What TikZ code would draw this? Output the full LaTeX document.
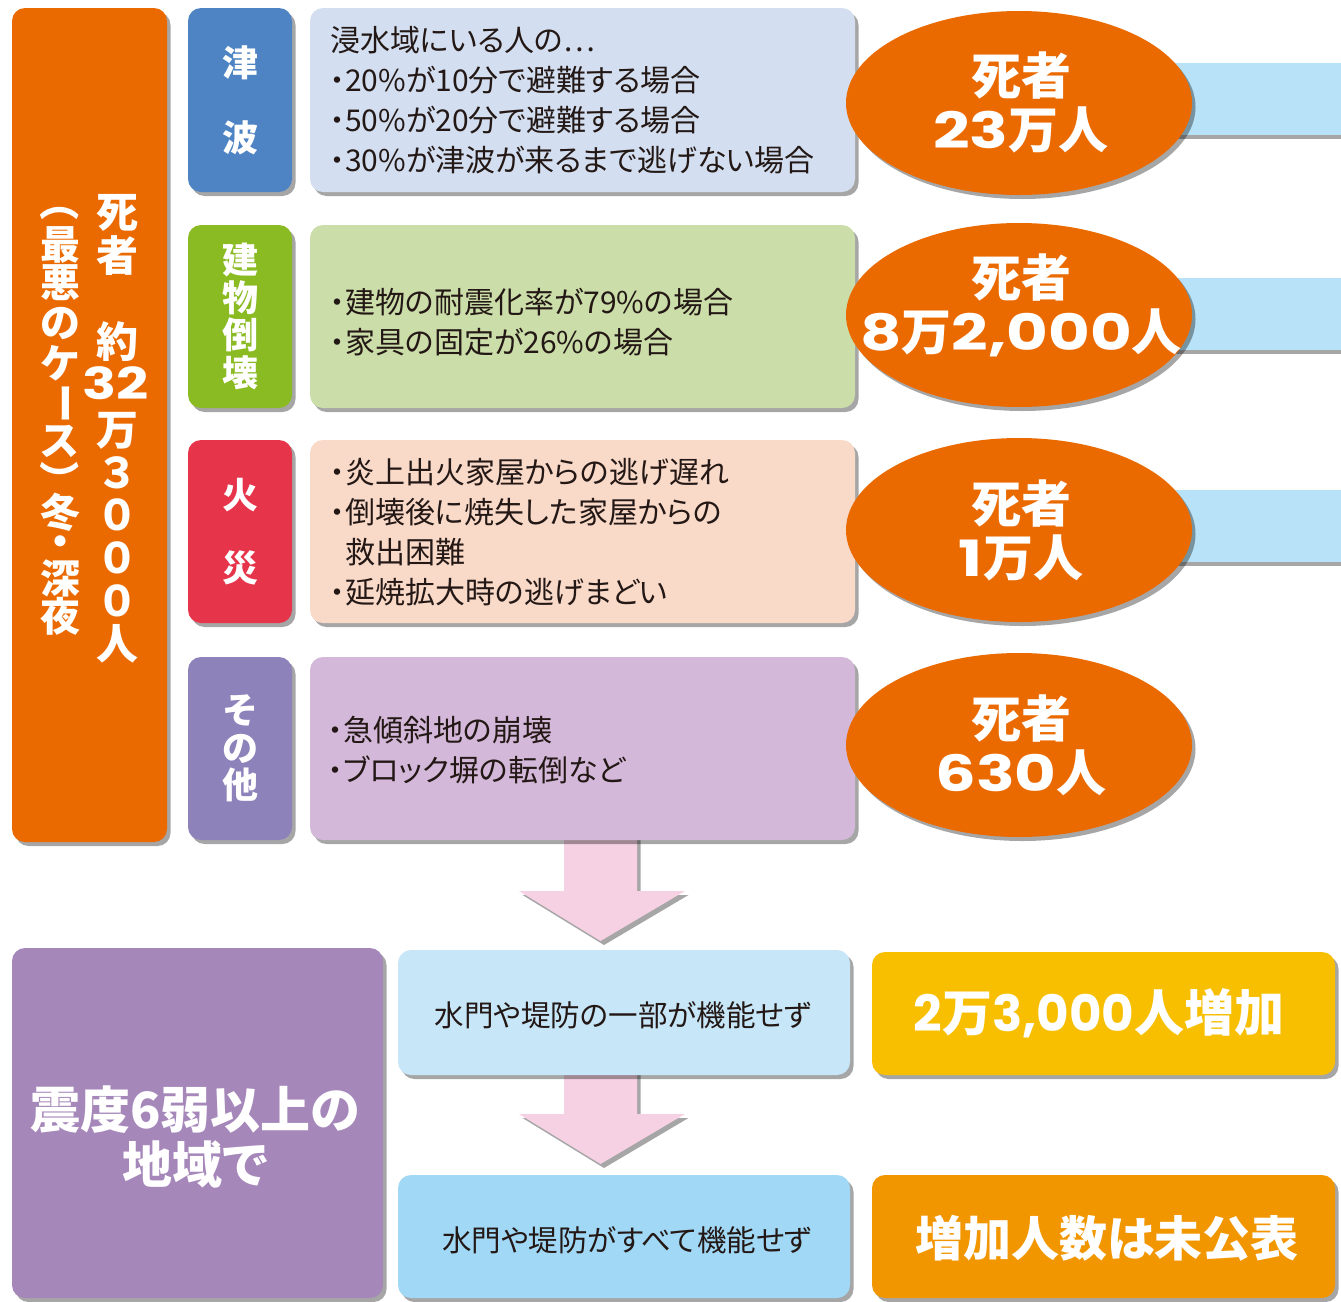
\documentclass[tikz,border=0pt]{standalone}
\usepackage{fontspec}
\setmainfont{Noto Sans CJK JP}[RawFeature={+palt}]
\newfontfamily\pop{Poppins}
\newfontfamily\popw{Poppins}[FakeStretch=1.28]
\usetikzlibrary{shadows,shapes.geometric,calc,backgrounds}
\definecolor{cOr}{HTML}{EB6A00}
\definecolor{cBlue}{HTML}{4F84C4}
\definecolor{cBlueBg}{HTML}{D3DFF0}
\definecolor{cGreen}{HTML}{8ABB22}
\definecolor{cGreenBg}{HTML}{CBDDA9}
\definecolor{cRed}{HTML}{E6344B}
\definecolor{cRedBg}{HTML}{F9D9C8}
\definecolor{cPur}{HTML}{8E82BA}
\definecolor{cPurBg}{HTML}{D3B8D9}
\definecolor{cBar}{HTML}{B8E2F7}
\definecolor{cPink}{HTML}{F6D1E3}
\definecolor{cShindo}{HTML}{A587BA}
\definecolor{cGate1}{HTML}{C7E7F9}
\definecolor{cGate2}{HTML}{A0D8F5}
\definecolor{cRes1}{HTML}{F7BF00}
\definecolor{cRes2}{HTML}{F29600}
\definecolor{cText}{HTML}{231815}
\begin{document}
\begin{tikzpicture}[x=1pt,y=-1pt,
  shad/.style={drop shadow={shadow xshift=3.5pt, shadow yshift=-4pt, fill=black, opacity=0.35}},
  rbox/.style={rectangle, rounded corners=13pt, inner sep=0pt, outer sep=0pt, draw=none, shad},
  oval/.style={ellipse, fill=cOr, inner sep=0pt, minimum width=346pt, minimum height=184pt, shad},
  wt/.style={text=white, inner sep=0pt},
  body/.style={anchor=west, align=left, text=cText, inner sep=0pt, font=\fontsize{30}{40}\selectfont},
  catlabel/.style={wt, align=center},
  bigc/.style={wt, font=\bfseries\fontsize{42}{42}\selectfont},
  leftc/.style={wt, font=\bfseries\fontsize{40}{40}\selectfont},
  ovaltext/.style={wt, align=center, font=\bfseries\fontsize{50}{54}\selectfont},
  bar/.style={fill=cBar, shad},
  fatarrow/.style={fill=cPink, shad},
]
\useasboundingbox (0,0) rectangle (1341,1301);

% light blue bars (behind ovals)
\path[bar] (1150,63) rectangle (1345,135);
\path[bar] (1150,278) rectangle (1345,350);
\path[bar] (1150,490) rectangle (1345,562);

% left total box
\node[rbox, fill=cOr, minimum width=155pt, minimum height=834pt] (total) at (89.5,425) {};
\foreach \c/\yy [count=\i] in {死/213,者/256,約/342,万/431,３/473,０/515,０/558,０/601,人/644}
  \node[bigc] (rc\i) at (117,\yy) {\c};
\node[wt, font=\bfseries\fontsize{44}{44}\selectfont] (rc32) at (116,383) {\popw 32};
\foreach \c/\yy [count=\i] in {最/245,悪/283,の/323,ケ/363,ス/441,冬/512,・/546,深/578,夜/616}
  \node[leftc] (lc\i) at (60,\yy) {\c};
\node[leftc, rotate=-90] (lpo) at (60,210) {（};
\node[leftc, rotate=-90] (lbar) at (60,403) {ー};
\node[leftc, rotate=-90] (lpc) at (60,472) {）};

% category boxes
\node[rbox, fill=cBlue, minimum width=104pt, minimum height=184pt] (cat1) at (240,100) {};
\node[rbox, fill=cGreen, minimum width=104pt, minimum height=183pt] (cat2) at (240,316.5) {};
\node[rbox, fill=cRed, minimum width=104pt, minimum height=183pt] (cat3) at (240,531.5) {};
\node[rbox, fill=cPur, minimum width=104pt, minimum height=183pt] (cat4) at (240,748.5) {};
\node[catlabel, font=\bfseries\fontsize{36}{75}\selectfont] (cl1) at (cat1) {津\\波};
\node[catlabel, font=\bfseries\fontsize{36}{37.5}\selectfont] (cl2) at (cat2) {建\\物\\倒\\壊};
\node[catlabel, font=\bfseries\fontsize{36}{73}\selectfont] (cl3) at (cat3) {火\\災};
\node[catlabel, font=\bfseries\fontsize{36}{37.5}\selectfont] (cl4) at (cat4) {そ\\の\\他};

% text boxes
\node[rbox, fill=cBlueBg, minimum width=545pt, minimum height=184pt] (txt1) at (582.5,100) {};
\node[rbox, fill=cGreenBg, minimum width=545pt, minimum height=183pt] (txt2) at (582.5,316.5) {};
\node[rbox, fill=cRedBg, minimum width=545pt, minimum height=183pt] (txt3) at (582.5,531.5) {};
\node[rbox, fill=cPurBg, minimum width=545pt, minimum height=183pt] (txt4) at (582.5,748.5) {};
\node[body] (tt1) at (330,100) {浸水域にいる人の⋯\\・20\%が10分で避難する場合\\・50\%が20分で避難する場合\\・30\%が津波が来るまで逃げない場合};
\node[body] (tt2) at (330,322) {・建物の耐震化率が79\%の場合\\・家具の固定が26\%の場合};
\node[body] (tt3) at (330,532) {・炎上出火家屋からの逃げ遅れ\\・倒壊後に焼失した家屋からの\\\hphantom{・}救出困難\\・延焼拡大時の逃げまどい};
\node[body] (tt4) at (328,750) {・急傾斜地の崩壊\\・ブロック塀の転倒など};

% death-toll ovals
\node[oval] (e1) at (1019,103) {};
\node[oval] (e2) at (1019,315) {};
\node[oval] (e3) at (1019,530) {};
\node[oval] (e4) at (1019,745) {};
\node[ovaltext] (et1) at (1021,102) {死者\\{\popw 23}万人};
\node[ovaltext] (et2) at (1021,305) {死者\\{\popw 8}万{\popw 2,000}人};
\node[ovaltext] (et3) at (1021,530) {死者\\{\popw 1}万人};
\node[ovaltext] (et4) at (1021,745) {死者\\{\popw 630}人};

% bottom boxes
\node[rbox, fill=cShindo, minimum width=371pt, minimum height=350pt] (shindo) at (197.5,1123) {};
\node[wt, align=center, font=\bfseries\fontsize{50}{55}\selectfont] (shindot) at (195,1137) {震度6弱以上の\\地域で};
\node[rbox, fill=cGate1, minimum width=452pt, minimum height=125pt] (g1) at (624,1012.5) {};
\node[rbox, fill=cGate2, minimum width=452pt, minimum height=123pt] (g2) at (624,1236.5) {};
\node[text=cText, inner sep=0pt, font=\fontsize{29.5}{29.5}\selectfont] (g1t) at (623,1015) {水門や堤防の一部が機能せず};
\node[text=cText, inner sep=0pt, font=\fontsize{29.5}{29.5}\selectfont] (g2t) at (627,1240) {水門や堤防がすべて機能せず};
\node[rbox, fill=cRes1, minimum width=463pt, minimum height=123pt] (r1) at (1103.5,1013.5) {};
\node[rbox, fill=cRes2, minimum width=463pt, minimum height=123pt] (r2) at (1103.5,1236.5) {};
\node[wt, font=\bfseries\fontsize{50}{50}\selectfont] (r1t) at (1099,1013) {{\pop 2}万{\pop 3,000}人増加};
\node[wt, font=\bfseries\fontsize{48}{48}\selectfont] (r2t) at (1107,1238) {増加人数は未公表};

% fat arrows
\begin{scope}[on background layer]
\fill[white] (0,0) rectangle (1341,1301);
\coordinate (a1s) at (600.5,830);
\coordinate (a1t) at (600.5,941);
\coordinate (a2s) at (600.5,1070);
\coordinate (a2t) at (600.5,1164);
\path[fatarrow] ($(a1s)+(-36.5,0)$) -- ($(a1s)+(36.5,0)$) -- ($(a1t)+(36.5,-50)$) -- ($(a1t)+(84.5,-50)$) -- (a1t) -- ($(a1t)+(-81.5,-50)$) -- ($(a1t)+(-36.5,-50)$) -- cycle;
\path[fatarrow] ($(a2s)+(-36.5,0)$) -- ($(a2s)+(36.5,0)$) -- ($(a2t)+(36.5,-50)$) -- ($(a2t)+(84.5,-50)$) -- (a2t) -- ($(a2t)+(-81.5,-50)$) -- ($(a2t)+(-36.5,-50)$) -- cycle;
\end{scope}
\end{tikzpicture}
\end{document}
